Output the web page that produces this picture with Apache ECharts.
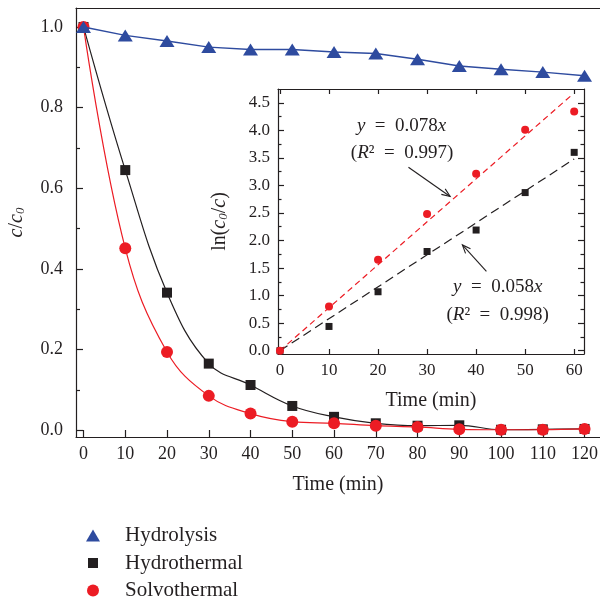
<!DOCTYPE html>
<html><head><meta charset="utf-8">
<script src="https://cdn.jsdelivr.net/npm/echarts@6/dist/echarts.min.js"></script>
<style>html,body{margin:0;padding:0;background:#fff}#c{width:600px;height:599px}</style>
</head><body><div id="c"></div>
<script>
// ---- data ----
const times = [0,10,20,30,40,50,60,70,80,90,100,110,120];
const hydrolysis   = [1.000,0.979,0.965,0.950,0.944,0.944,0.938,0.934,0.920,0.903,0.895,0.888,0.879];
const hydrothermal = [1.000,0.645,0.341,0.165,0.112,0.060,0.033,0.017,0.011,0.012,0.001,0.002,0.003];
const solvothermal = [1.000,0.451,0.194,0.085,0.041,0.021,0.017,0.011,0.008,0.002,0.001,0.001,0.003];
const insetTimes = [0,10,20,30,40,50,60];
const lnHydrothermal = [0,0.44,1.07,1.80,2.19,2.87,3.60];
const lnSolvothermal = [0,0.80,1.65,2.48,3.21,4.01,4.34];
const fitHydrothermal = [[0,0],[60,3.48]];
const fitSolvothermal = [[0,0],[59.5,4.64]];
const mainXTicks = [0,10,20,30,40,50,60,70,80,90,100,110,120];
const mainYLabels = [0,0.2,0.4,0.6,0.8,1.0];
const mainYMinor = [0.1,0.3,0.5,0.7,0.9];
const insetXTicks = [0,10,20,30,40,50,60];
const insetYLabels = [0,0.5,1.0,1.5,2.0,2.5,3.0,3.5,4.0,4.5];
const insetYMinor = [0.25,0.75,1.25,1.75,2.25,2.75,3.25,3.75,4.25];

const INK = '#231f20', RED = '#ec1c24', BLUE = '#2e4b9f';
const FONT = 'Liberation Serif';
const pairs = (xs, ys) => xs.map((x, i) => [x, ys[i]]);

const chart = echarts.init(document.getElementById('c'), null, {renderer: 'canvas'});
const lineS = {color: INK, width: 1.2};
const axLine = {show: true, onZero: false, lineStyle: lineS};
const noLine = {show: false, onZero: false};
const subRich = {
  i: {fontStyle: 'italic', fontSize: 20, fontFamily: FONT, color: INK, lineHeight: 20, verticalAlign: 'top'},
  n: {fontSize: 20, fontFamily: FONT, color: INK, lineHeight: 20, verticalAlign: 'top'},
  s: {fontStyle: 'italic', fontSize: 13, fontFamily: FONT, color: INK, lineHeight: 13, verticalAlign: 'bottom', padding: [10,0,0,0]}
};
const mainRect = {left: 76, top: 8, width: 524, height: 429, show: false, outerBoundsMode: 'none', containLabel: false};
const insetRect = {left: 278, top: 89, width: 306, height: 265, outerBoundsMode: 'none', containLabel: false};
// legend icon boxes (14x12) with a smaller centred square / circle inside
const squareIcon = 'path://M0,0L0,0M14,12L14,12M2,1L12,1L12,11L2,11Z';

const option = {
  animation: false,
  textStyle: {fontFamily: FONT, color: INK},
  grid: [
    Object.assign({}, mainRect),
    Object.assign({}, mainRect),
    Object.assign({}, insetRect, {show: true, backgroundColor: '#fff', borderWidth: 0}),
    Object.assign({}, insetRect, {show: false})
  ],
  xAxis: [
    {gridIndex: 0, type: 'value', min: -1.8, max: 123.7, position: 'bottom',
     axisLine: axLine, splitLine: {show: false},
     axisTick: {inside: true, length: 7, lineStyle: lineS, customValues: mainXTicks},
     axisLabel: {customValues: mainXTicks, fontSize: 18, margin: 8, color: INK, fontFamily: FONT},
     name: 'Time (min)', nameLocation: 'middle', nameGap: 38,
     nameTextStyle: {fontSize: 20, color: INK, fontFamily: FONT}},
    {gridIndex: 0, type: 'value', min: -1.8, max: 123.7, position: 'top',
     axisLine: axLine, axisTick: {show: false}, axisLabel: {show: false}, splitLine: {show: false}},
    {gridIndex: 1, type: 'value', min: -1.8, max: 123.7, show: false, axisLine: noLine},
    {gridIndex: 2, type: 'value', min: -0.4, max: 62, position: 'bottom',
     axisLine: axLine, splitLine: {show: false},
     axisTick: {inside: true, length: 5, lineStyle: lineS, customValues: insetXTicks},
     axisLabel: {customValues: insetXTicks, fontSize: 17, margin: 8, color: INK, fontFamily: FONT},
     name: 'Time (min)', nameLocation: 'middle', nameGap: 37,
     nameTextStyle: {fontSize: 20, color: INK, fontFamily: FONT}},
    {gridIndex: 2, type: 'value', min: -0.4, max: 62, position: 'top',
     axisLine: axLine, splitLine: {show: false},
     axisTick: {inside: true, length: 5, lineStyle: lineS, customValues: insetXTicks},
     axisLabel: {show: false}},
    {gridIndex: 3, type: 'value', min: -0.4, max: 62, show: false, axisLine: noLine}
  ],
  yAxis: [
    {gridIndex: 0, type: 'value', min: -0.017, max: 1.047, position: 'left',
     axisLine: axLine, splitLine: {show: false},
     axisTick: {show: true, inside: true, length: 7, lineStyle: lineS, customValues: mainYLabels},
     axisLabel: {customValues: mainYLabels, fontSize: 18, margin: 13, color: INK, fontFamily: FONT,
                 formatter: v => v.toFixed(1)},
     name: '{i|c}{n|/}{i|c}{s|0}', nameLocation: 'middle', nameGap: 49,
     nameTextStyle: {rich: subRich}},
    {gridIndex: 1, type: 'value', min: -0.017, max: 1.047, position: 'left',
     axisLine: noLine, splitLine: {show: false}, axisLabel: {show: false},
     axisTick: {show: true, inside: true, length: 4, lineStyle: lineS, customValues: mainYMinor}},
    {gridIndex: 2, type: 'value', min: -0.06, max: 4.75, position: 'left',
     axisLine: axLine, splitLine: {show: false},
     axisTick: {show: true, inside: true, length: 6, lineStyle: lineS, customValues: insetYLabels},
     axisLabel: {customValues: insetYLabels, fontSize: 17, margin: 8, color: INK, fontFamily: FONT,
                 formatter: v => v.toFixed(1)},
     name: '{n|ln(}{i|c}{s|0}{n|/}{i|c}{n|)}', nameLocation: 'middle', nameGap: 48,
     nameTextStyle: {rich: subRich}},
    {gridIndex: 2, type: 'value', min: -0.06, max: 4.75, position: 'right',
     axisLine: axLine, splitLine: {show: false}, axisLabel: {show: false},
     axisTick: {show: true, inside: true, length: 6, lineStyle: lineS, customValues: insetYLabels}},
    {gridIndex: 3, type: 'value', min: -0.06, max: 4.75, position: 'left',
     axisLine: noLine, splitLine: {show: false}, axisLabel: {show: false},
     axisTick: {show: true, inside: true, length: 3.5, lineStyle: lineS, customValues: insetYMinor}},
    {gridIndex: 3, type: 'value', min: -0.06, max: 4.75, position: 'right',
     axisLine: noLine, splitLine: {show: false}, axisLabel: {show: false},
     axisTick: {show: true, inside: true, length: 3.5, lineStyle: lineS, customValues: insetYMinor}}
  ],
  legend: {
    orient: 'vertical', left: 86, top: 525, height: 100, padding: 0,
    itemWidth: 14, itemHeight: 12, itemGap: 6.5,
    selectedMode: false,
    textStyle: {fontSize: 21, lineHeight: 20, color: INK, fontFamily: FONT, padding: [0,0,0,20]},
    data: [{name: 'Hydrolysis', icon: 'triangle'}, {name: 'Hydrothermal', icon: squareIcon}, {name: 'Solvothermal', icon: 'circle'}]
  },
  series: [
    {name: 'Hydrothermal', type: 'line', xAxisIndex: 0, yAxisIndex: 0, data: pairs(times, hydrothermal),
     smooth: 0.4, symbol: 'rect', symbolSize: 10, color: INK, itemStyle: {color: INK},
     lineStyle: {color: INK, width: 1.2}, z: 3},
    {name: 'Solvothermal', type: 'line', xAxisIndex: 0, yAxisIndex: 0, data: pairs(times, solvothermal),
     smooth: 0.4, symbol: 'circle', symbolSize: 12, color: RED, itemStyle: {color: RED},
     lineStyle: {color: RED, width: 1.2}, z: 4},
    {name: 'Hydrolysis', type: 'line', xAxisIndex: 0, yAxisIndex: 0, data: pairs(times, hydrolysis),
     symbol: 'triangle', symbolSize: [15, 12], color: BLUE, itemStyle: {color: BLUE},
     lineStyle: {color: BLUE, width: 1.4}, z: 5},
    {name: 'fitH', type: 'line', xAxisIndex: 3, yAxisIndex: 2, data: fitHydrothermal, showSymbol: false,
     lineStyle: {color: INK, width: 1.2, type: [9, 5]}, z: 3},
    {name: 'fitS', type: 'line', xAxisIndex: 3, yAxisIndex: 2, data: fitSolvothermal, showSymbol: false,
     lineStyle: {color: RED, width: 1.2, type: [6, 4]}, z: 3},
    {name: 'lnH', type: 'scatter', xAxisIndex: 3, yAxisIndex: 2, data: pairs(insetTimes, lnHydrothermal),
     symbol: 'rect', symbolSize: 7, itemStyle: {color: INK, opacity: 1}, z: 4},
    {name: 'lnS', type: 'scatter', xAxisIndex: 3, yAxisIndex: 2, data: pairs(insetTimes, lnSolvothermal),
     symbol: 'circle', symbolSize: 8, itemStyle: {color: RED, opacity: 1}, z: 5}
  ]
};
chart.setOption(option);

// annotations in inset data space
const annTexts = [
  {at: [24.8, 4.07], text: '{i|y}\u2002=\u20020.078{i|x}'},
  {at: [24.9, 3.58], text: '({i|R}\u00b2\u2002=\u20020.997)'},
  {at: [44.4, 1.16], text: '{i|y}\u2002=\u20020.058{i|x}'},
  {at: [44.4, 0.65], text: '({i|R}\u00b2\u2002=\u20020.998)'}
];
const annArrows = [
  {from: [26.2, 3.33], to: [34.7, 2.80]},
  {from: [42.1, 1.44], to: [37.2, 1.92]}
];
const px = p => chart.convertToPixel({xAxisIndex: 3, yAxisIndex: 2}, p);
const graphics = [];
annTexts.forEach(a => {
  const p = px(a.at);
  graphics.push({type: 'text', x: p[0], y: p[1], z: 10,
    style: {text: a.text, fill: INK, font: '19px "' + FONT + '"', align: 'center', verticalAlign: 'middle',
            rich: {i: {fontStyle: 'italic', fontSize: 19, fontFamily: FONT, fill: INK}}}});
});
annArrows.forEach(a => {
  const p1 = px(a.from), p2 = px(a.to);
  const ang = Math.atan2(p2[1] - p1[1], p2[0] - p1[0]);
  const L = 9, spread = 0.38;
  const h1 = [p2[0] - L * Math.cos(ang - spread), p2[1] - L * Math.sin(ang - spread)];
  const h2 = [p2[0] - L * Math.cos(ang + spread), p2[1] - L * Math.sin(ang + spread)];
  graphics.push({type: 'line', z: 10, shape: {x1: p1[0], y1: p1[1], x2: p2[0], y2: p2[1]},
    style: {stroke: INK, lineWidth: 1.1}});
  graphics.push({type: 'polyline', z: 10, shape: {points: [h1, p2, h2]},
    style: {stroke: INK, lineWidth: 1.1, fill: null}});
});
chart.setOption({graphic: graphics});
</script></body></html>
